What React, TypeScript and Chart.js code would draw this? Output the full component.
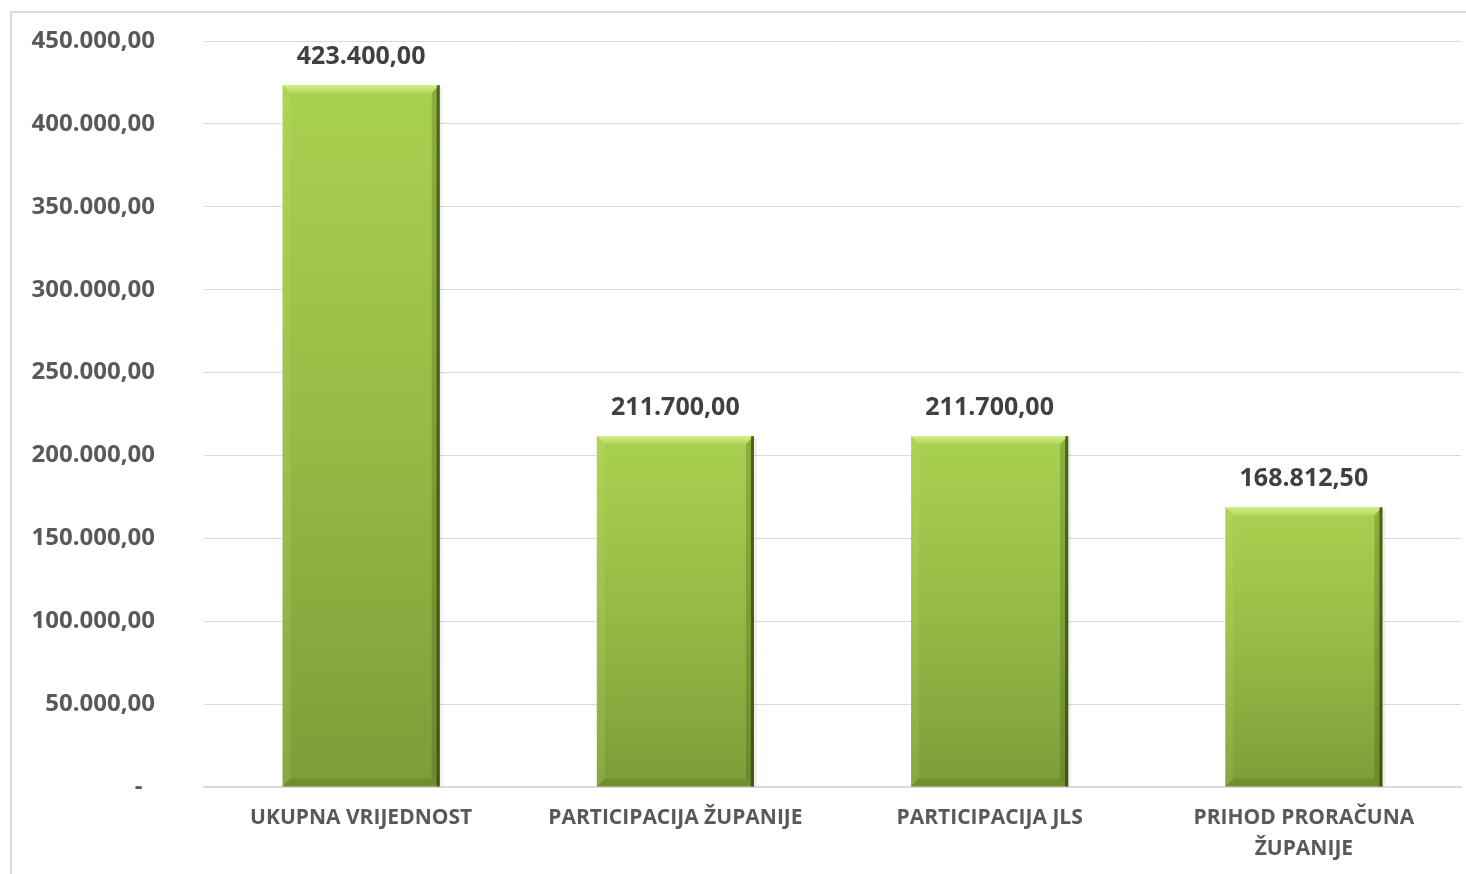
import React, { useEffect, useRef } from "react";
import { Chart, registerables } from "chart.js";

Chart.register(...registerables);

const categories: (string | string[])[] = [
  "UKUPNA VRIJEDNOST",
  "PARTICIPACIJA ŽUPANIJE",
  "PARTICIPACIJA JLS",
  ["PRIHOD PRORAČUNA", "ŽUPANIJE"],
];
const values: number[] = [423400, 211700, 211700, 168812.5];
const yMin = 0;
const yMax = 450000;
const yStep = 50000;

function fmt(v: number): string {
  if (v === 0) return "-  ";
  const fixed = v.toFixed(2);
  const [intPart, dec] = fixed.split(".");
  const withDots = intPart.replace(/\B(?=(\d{3})+(?!\d))/g, ".");
  return withDots + "," + dec;
}

const FONT = "'Open Sans', 'DejaVu Sans', sans-serif";

const bevelPlugin = {
  id: "bevel",
  afterDatasetsDraw(chart: any) {
    const ctx = chart.ctx;
    const meta = chart.getDatasetMeta(0);
    meta.data.forEach((bar: any) => {
      const x0 = bar.x - bar.width / 2;
      const x1 = bar.x + bar.width / 2;
      const y0 = bar.y;
      const y1 = bar.base;
      const b = 8;
      ctx.save();
      const tg = ctx.createLinearGradient(0, y0, 0, y0 + b);
      tg.addColorStop(0, "rgba(235,250,170,0.7)");
      tg.addColorStop(1, "rgba(225,245,150,0.2)");
      ctx.fillStyle = tg;
      ctx.beginPath();
      ctx.moveTo(x0, y0);
      ctx.lineTo(x1, y0);
      ctx.lineTo(x1 - b, y0 + b);
      ctx.lineTo(x0 + b, y0 + b);
      ctx.closePath();
      ctx.fill();
      ctx.fillStyle = "rgba(200,235,120,0.15)";
      ctx.beginPath();
      ctx.moveTo(x0, y0);
      ctx.lineTo(x0 + b, y0 + b);
      ctx.lineTo(x0 + b, y1 - b);
      ctx.lineTo(x0, y1);
      ctx.closePath();
      ctx.fill();
      ctx.fillStyle = "rgba(50,75,10,0.25)";
      ctx.beginPath();
      ctx.moveTo(x1, y0);
      ctx.lineTo(x1, y1);
      ctx.lineTo(x1 - b, y1 - b);
      ctx.lineTo(x1 - b, y0 + b);
      ctx.closePath();
      ctx.fill();
      ctx.fillStyle = "rgba(60,85,15,0.2)";
      ctx.beginPath();
      ctx.moveTo(x0, y1);
      ctx.lineTo(x1, y1);
      ctx.lineTo(x1 - b, y1 - b);
      ctx.lineTo(x0 + b, y1 - b);
      ctx.closePath();
      ctx.fill();
      ctx.fillStyle = "rgba(40,60,5,0.65)";
      ctx.fillRect(x1 - 3, y0, 3, y1 - y0);
      ctx.fillStyle = "rgba(0,0,0,0.06)";
      ctx.fillRect(x1, y0 + 2, 3, y1 - y0 - 2);
      ctx.restore();
    });
  },
};

const labelPlugin = {
  id: "valueLabels",
  afterDatasetsDraw(chart: any) {
    const ctx = chart.ctx;
    const meta = chart.getDatasetMeta(0);
    ctx.save();
    ctx.font = `bold 25px ${FONT}`;
    ctx.fillStyle = "#404040";
    ctx.textAlign = "center";
    ctx.textBaseline = "middle";
    meta.data.forEach((bar: any, i: number) => {
      ctx.fillText(fmt(values[i]), bar.x, bar.y - 28);
    });
    ctx.restore();
  },
};

const framePlugin = {
  id: "frame",
  beforeDraw(chart: any) {
    const ctx = chart.ctx;
    ctx.save();
    ctx.fillStyle = "#ffffff";
    ctx.fillRect(0, 0, chart.width, chart.height);
    ctx.strokeStyle = "#d9d9d9";
    ctx.lineWidth = 2;
    ctx.beginPath();
    ctx.moveTo(11, chart.height + 5);
    ctx.lineTo(11, 12);
    ctx.lineTo(chart.width + 5, 12);
    ctx.stroke();
    ctx.restore();
  },
};

export default function App() {
  const ref = useRef<HTMLCanvasElement | null>(null);
  useEffect(() => {
    if (!ref.current) return;
    const chart = new Chart(ref.current, {
      type: "bar",
      data: {
        labels: categories,
        datasets: [
          {
            data: values,
            barPercentage: 0.5,
            categoryPercentage: 1,
            backgroundColor: (c: any) => {
              const ch = c.chart;
              const ys = ch.scales?.y;
              if (!ys || c.raw === undefined) return "#9bc146";
              const top = ys.getPixelForValue(c.raw);
              const bot = ys.getPixelForValue(0);
              if (!isFinite(top) || !isFinite(bot) || top === bot) return "#9bc146";
              const g = ch.ctx.createLinearGradient(0, top, 0, bot);
              g.addColorStop(0, "#a9d150");
              g.addColorStop(0.5, "#96ba45");
              g.addColorStop(1, "#7c9d39");
              return g;
            },
            borderWidth: 0,
          },
        ],
      },
      options: {
        animation: false,
        responsive: true,
        maintainAspectRatio: false,
        layout: { padding: { top: 41, right: 5, left: 0, bottom: 0 } },
        plugins: {
          legend: { display: false },
          tooltip: { enabled: false },
        },
        scales: {
          x: {
            grid: { display: false, drawTicks: false },
            border: { display: true, color: "#d9d9d9", width: 2 },
            ticks: {
              color: "#595959",
              font: { family: FONT, size: 21, weight: "bold", lineHeight: 1.45 },
              padding: 16,
              maxRotation: 0,
              autoSkip: false,
            },
            afterFit: (s: any) => {
              s.height = 87;
            },
          },
          y: {
            min: yMin,
            max: yMax,
            grid: { color: "#d9d9d9", lineWidth: 1, drawTicks: false },
            border: { display: false },
            ticks: {
              stepSize: yStep,
              color: "#595959",
              font: { family: FONT, size: 24, weight: "bold" },
              padding: 49,
              callback: (v: any) => fmt(Number(v)),
            },
            afterFit: (s: any) => {
              s.width = 204;
              s.paddingTop = 0;
              s.paddingBottom = 0;
            },
          },
        },
      },
      plugins: [framePlugin, bevelPlugin, labelPlugin],
    });
    return () => chart.destroy();
  }, []);
  return (
    <div style={{ position: "fixed", left: 0, top: 0, width: 1466, height: 874 }}>
      <canvas ref={ref} />
    </div>
  );
}
